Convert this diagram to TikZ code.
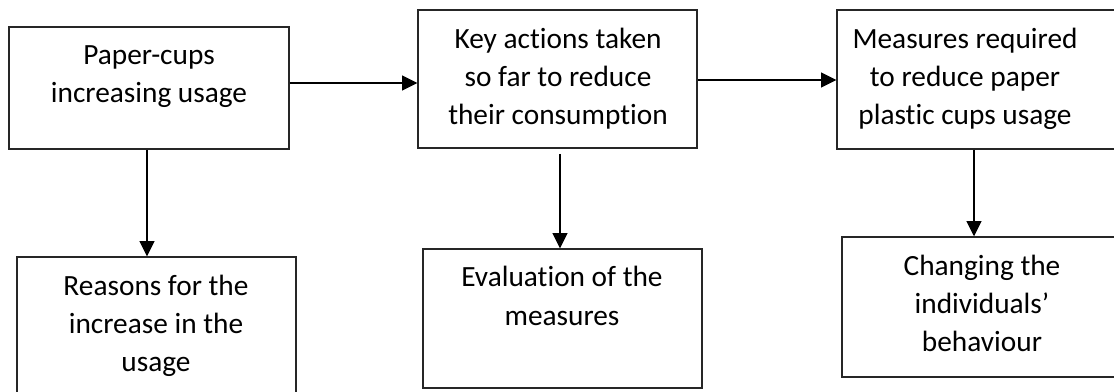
\documentclass[tikz,border=0pt]{standalone}
\usepackage{fontspec}
\setmainfont[Ligatures=NoCommon]{Carlito}
\usetikzlibrary{arrows.meta,fit}
\begin{document}
\begin{tikzpicture}[x=0.75pt,y=-0.75pt,
  box/.style={draw=black!85,line width=0.95pt,inner sep=0pt,rectangle},
  label/.style={anchor=base,align=center,inner sep=0pt,
    font=\fontsize{22}{28.5}\selectfont},
  arr/.style={draw=black,line width=1.7pt,
    -{Triangle[length=11.5pt,width=11pt]}}]
\useasboundingbox (0,0) rectangle (1114,392);
\clip (0,0) rectangle (1114,392);

% boxes of the top row
\node[box,fit={(9,27) (289,149)}] (b1) {};
\node[box,fit={(418,10) (697,148)}] (b2) {};
\node[box,fit={(837,10) (1122,149)}] (b3) {};
% boxes of the bottom row
\node[box,fit={(17,257) (296,402)}] (b4) {};
\node[box,fit={(423,249) (702,388)}] (b5) {};
\node[box,fit={(842,237) (1124,377)}] (b6) {};

% box texts, placed by the baseline of their last line
\node[label] (t1) at (149,103) {Paper-cups\\increasing usage};
\node[label] (t2) at (558,125) {Key actions taken\\so far to reduce\\their consumption};
\node[label] (t3) at (965,125) {Measures required\\to reduce paper\\plastic cups usage};
\node[label] (t4) at (156,371) {Reasons for the\\increase in the\\usage};
\node[label] (t5) at (562,325) {Evaluation of the\\measures};
\node[label] (t6) at (982,351) {Changing the\\individuals’\\behaviour};

% connector guide lines
\coordinate (h1) at (0,83);
\coordinate (h2) at (0,80);
\coordinate (v1) at (147,0);
\coordinate (v2) at (560,0);
\coordinate (v3) at (974,0);

\draw[arr] (b1.east |- h1) -- (b2.west |- h1);
\draw[arr] (b2.east |- h2) -- (b3.west |- h2);
\draw[arr] (b1.south -| v1) -- (b4.north -| v1);
\draw[arr,shorten <=4pt] (b2.south -| v2) -- (b5.north -| v2);
\draw[arr] (b3.south -| v3) -- (b6.north -| v3);
\end{tikzpicture}
\end{document}
